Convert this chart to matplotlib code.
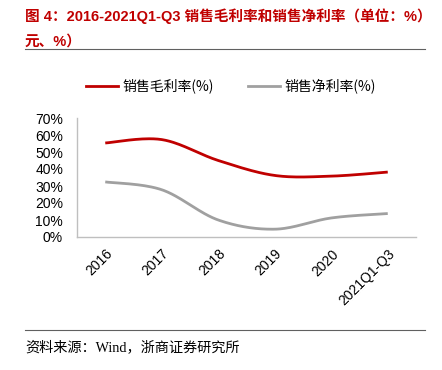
import numpy as np
import matplotlib
matplotlib.use("Agg")
import matplotlib.pyplot as plt
from matplotlib.lines import Line2D

plt.rcParams['font.family'] = ['Liberation Sans', 'Noto Sans CJK SC', 'DejaVu Sans']

# data
years = ['2016', '2017', '2018', '2019', '2020', '2021Q1-Q3']
gross_margin = [55.3, 57.3, 45.0, 36.2, 35.8, 38.2]
net_margin = [32.4, 27.8, 10.0, 4.6, 11.2, 13.8]

title = '图 4：2016-2021Q1-Q3 销售毛利率和销售净利率（单位：%）\n元、%）'
source = '资料来源：Wind，浙商证券研究所'


def smooth(x, y, n=30, t=0.5):
    # cardinal spline through the points (like excel's smoothed line)
    x = np.asarray(x, float); y = np.asarray(y, float)
    px = np.concatenate([[x[0]], x, [x[-1]]])
    py = np.concatenate([[y[0]], y, [y[-1]]])
    xs, ys = [], []
    for i in range(1, len(px) - 2):
        p0, p1, p2, p3 = (np.array([px[j], py[j]]) for j in range(i - 1, i + 3))
        m1 = t * (p2 - p0)
        m2 = t * (p3 - p1)
        s = np.linspace(0, 1, n)[:, None]
        h00 = 2*s**3 - 3*s**2 + 1; h10 = s**3 - 2*s**2 + s
        h01 = -2*s**3 + 3*s**2; h11 = s**3 - s**2
        pts = h00*p1 + h10*m1 + h01*p2 + h11*m2
        xs.extend(pts[:, 0]); ys.extend(pts[:, 1])
    return xs, ys


fig = plt.figure(figsize=(4.42, 3.70), dpi=100)
ax = fig.add_axes([77/442, 1 - 237/370, (416-77)/442, (237-118)/370])

red = '#C00000'
grey = '#A0A0A0'
x = np.arange(len(years))
ax.plot(*smooth(x, gross_margin), color=red, lw=2.0, solid_capstyle='butt')
ax.plot(*smooth(x, net_margin), color=grey, lw=2.0, solid_capstyle='butt')

ax.set_xlim(-0.5, len(years) - 0.5)
ax.set_ylim(0, 70)
ax.set_yticks(range(0, 71, 10))
ax.set_yticklabels([f'{v}%' for v in range(0, 71, 10)], fontsize=10)
ax.set_xticks(x)
ax.set_xticklabels(years, rotation=45, ha='right', rotation_mode='anchor', fontsize=10)
ax.tick_params(axis='both', length=0, colors='#000000')
ax.tick_params(axis='x', pad=7)
ax.tick_params(axis='y', pad=10)
for s in ['top', 'right']:
    ax.spines[s].set_visible(False)
for s in ['left', 'bottom']:
    ax.spines[s].set_color('#BFBFBF')
    ax.spines[s].set_linewidth(1.0)

# legend
handles = [Line2D([], [], color=red, lw=2.0), Line2D([], [], color=grey, lw=2.0)]
fig.legend(handles, ['销售毛利率(%)', '销售净利率(%)'], loc='center', ncol=2,
           bbox_to_anchor=(231/442, 1 - 86/370), frameon=False,
           handlelength=2.3, handletextpad=0.3, columnspacing=2.5,
           prop={'family': ['Noto Sans CJK SC', 'DejaVu Sans'], 'size': 10})

# title and source
fig.text(25/442, 1 - 8/370, title, color=red, fontsize=10.5, fontweight='bold',
         va='top', ha='left', linespacing=1.95,
         family=['Liberation Sans', 'Noto Sans CJK SC'])
fig.add_artist(Line2D([25/442, 425/442], [1 - 49/370, 1 - 49/370], color='#606060', lw=0.8))
fig.add_artist(Line2D([25/442, 425/442], [1 - 330/370, 1 - 330/370], color='#606060', lw=0.8))
fig.text(25/442, 1 - 347/370, source, fontsize=10.2, va='center', ha='left',
         family=['Liberation Serif', 'Noto Sans CJK SC', 'DejaVu Sans'])

fig.savefig('out.png', dpi=100)
